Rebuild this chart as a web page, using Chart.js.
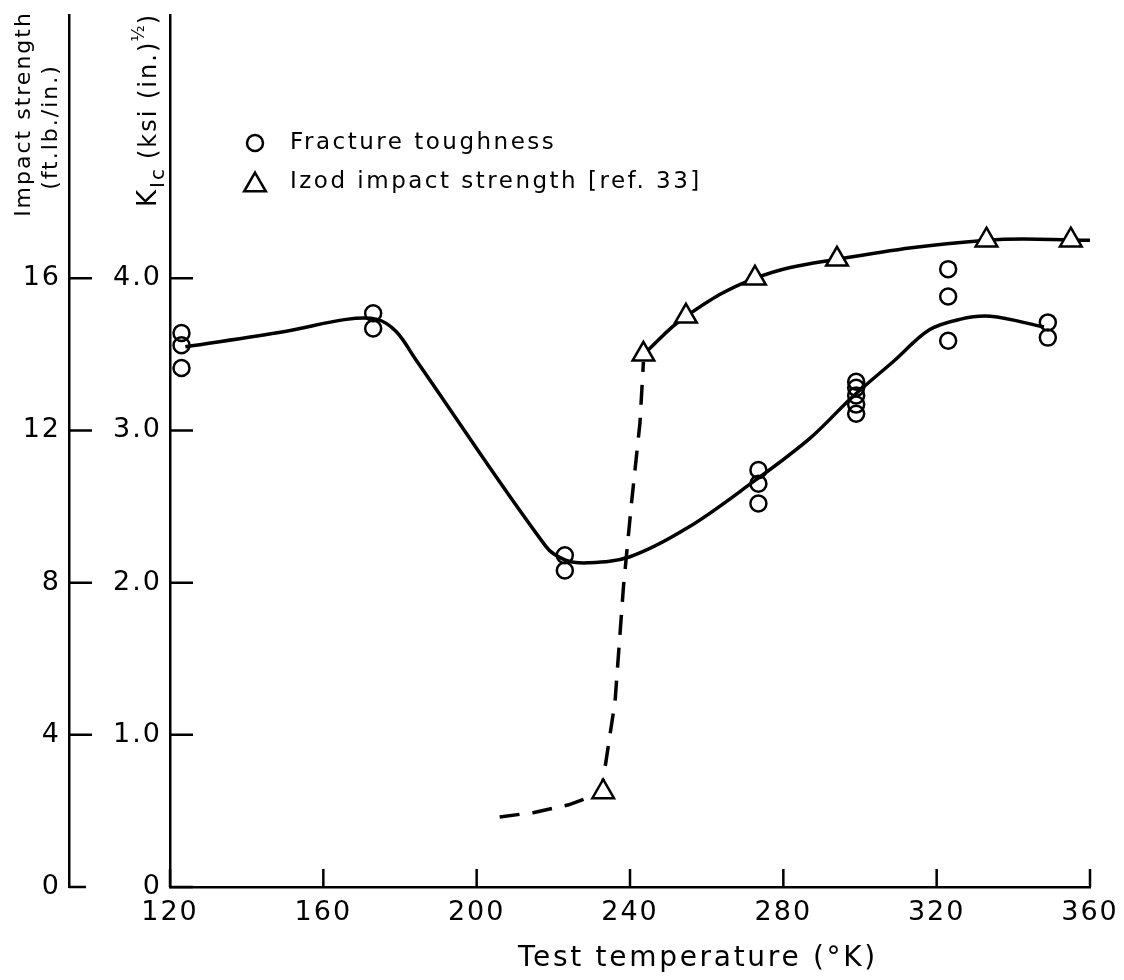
<!DOCTYPE html>
<html>
<head>
<meta charset="utf-8">
<script src="https://cdn.jsdelivr.net/npm/chart.js@4.4.0/dist/chart.umd.min.js"></script>
<style>
  html, body { margin: 0; padding: 0; background: #fff; }
</style>
</head>
<body>
<canvas id="myChart" width="1124" height="980"></canvas>
<script>
// test temperature (K) and K_Ic (ksi (in.)^1/2) of the fracture specimens
var toughTemp = [123, 123, 123, 173, 173, 223, 223, 273.5, 273.5, 273.5, 299, 299, 299, 299, 299, 323, 323, 323, 349, 349];
var toughKic = [3.64, 3.56, 3.41, 3.77, 3.67, 2.18, 2.08, 2.74, 2.65, 2.52, 3.32, 3.28, 3.23, 3.17, 3.11, 4.06, 3.88, 3.59, 3.71, 3.61];

// Izod impact strength (ft.lb./in.) [ref. 33]
var izodTemp = [233, 243.5, 254.6, 272.6, 294, 333, 355];
var izodImpact = [2.5, 14.0, 15.0, 16.0, 16.5, 17.0, 17.0];

// hand drawn curves
var toughFitTemp = [124, 150, 166, 174, 179, 184, 218, 223, 229, 240, 255, 272, 287, 298, 309, 318, 326, 334, 348];
var toughFitKic = [3.55, 3.65, 3.73, 3.73, 3.65, 3.47, 2.24, 2.15, 2.13, 2.17, 2.36, 2.66, 2.95, 3.22, 3.46, 3.66, 3.73, 3.75, 3.68];
var izodFitTemp = [243.5, 254.6, 272.6, 294, 333, 360];
var izodFitImpact = [14.0, 15.0, 16.0, 16.5, 17.0, 17.0];
var izodDashTemp = [206, 215, 224, 232.5, 236.1, 238.3, 240.4, 242.6, 243.5];
var izodDashImpact = [1.84, 1.96, 2.16, 2.48, 4.88, 7.9, 10.1, 12.2, 13.8];

var xTicks = [120, 160, 200, 240, 280, 320, 360];
var kicTicks = [0, 1, 2, 3, 4];
var impactTicks = [0, 4, 8, 12, 16];

var FONT = "'DejaVu Sans'";

function pts(xs, ys) {
  return xs.map(function (x, i) { return { x: x, y: ys[i] }; });
}

var inkPlugin = {
  id: 'ink',
  beforeDraw: function (chart) {
    var ctx = chart.ctx;
    ctx.save();
    ctx.fillStyle = '#fff';
    ctx.fillRect(0, 0, chart.width, chart.height);
    ctx.restore();
    ctx.letterSpacing = '2px';
  },
  afterDraw: function (chart) {
    var ctx = chart.ctx;
    var area = chart.chartArea;
    var sx = chart.scales.x, sy = chart.scales.y, si = chart.scales.yImp;
    ctx.save();
    ctx.strokeStyle = '#000';
    ctx.fillStyle = '#000';
    ctx.lineWidth = 2.5;

    // tick marks point into the plot
    ctx.beginPath();
    kicTicks.forEach(function (v) {
      var y = sy.getPixelForValue(v);
      ctx.moveTo(area.left, y);
      ctx.lineTo(area.left + 23, y);
    });
    impactTicks.forEach(function (v) {
      var y = si.getPixelForValue(v);
      ctx.moveTo(si.right, y);
      ctx.lineTo(si.right + (v === 0 ? 17 : 23), y);
    });
    xTicks.forEach(function (v) {
      var x = sx.getPixelForValue(v);
      ctx.moveTo(x, area.bottom);
      ctx.lineTo(x, area.bottom - 18);
    });
    ctx.stroke();

    // legend
    ctx.fillStyle = '#fff';
    Chart.helpers.drawPoint(ctx, { pointStyle: 'circle', radius: 8, rotation: 0, borderWidth: 2.5 }, 255, 143);
    Chart.helpers.drawPoint(ctx, { pointStyle: 'triangle', radius: 12.5, rotation: 0, borderWidth: 2.5 }, 255, 185);
    ctx.fillStyle = '#000';
    ctx.font = '23px ' + FONT;
    ctx.letterSpacing = '2.5px';
    ctx.textAlign = 'left';
    ctx.textBaseline = 'middle';
    ctx.fillText('Fracture toughness', 290, 143);
    ctx.fillText('Izod impact strength [ref. 33]', 290, 182);

    // x axis title, set right of centre as in the original
    ctx.letterSpacing = '2.7px';
    ctx.textAlign = 'center';
    ctx.font = '28px ' + FONT;
    ctx.fillText('Test temperature (\u00b0K)', 698, 959);

    // left axis title
    ctx.letterSpacing = '2px';
    ctx.font = '22px ' + FONT;
    ctx.save();
    ctx.translate(24, 114);
    ctx.rotate(-Math.PI / 2);
    ctx.fillText('Impact strength', 0, 0);
    ctx.restore();
    ctx.save();
    ctx.translate(51, 127);
    ctx.rotate(-Math.PI / 2);
    ctx.fillText('(ft.lb./in.)', 0, 0);
    ctx.restore();

    // K_Ic title with sub and superscript
    ctx.save();
    ctx.translate(148, 207);
    ctx.rotate(-Math.PI / 2);
    ctx.textAlign = 'left';
    ctx.textBaseline = 'alphabetic';
    var cx = 0;
    ctx.font = '26px ' + FONT;
    ctx.fillText('K', cx, 8);
    cx += ctx.measureText('K').width;
    ctx.font = '20px ' + FONT;
    ctx.fillText('Ic', cx, 16);
    cx += ctx.measureText('Ic').width + 8;
    ctx.font = '24px ' + FONT;
    ctx.fillText('(ksi (in.)', cx, 8);
    cx += ctx.measureText('(ksi (in.)').width - 1;
    ctx.font = '17px ' + FONT;
    ctx.letterSpacing = '0px';
    ctx.fillText('\u00bd', cx, -4);
    cx += ctx.measureText('\u00bd').width + 1;
    ctx.font = '24px ' + FONT;
    ctx.fillText(')', cx, 8);
    ctx.restore();

    ctx.restore();
  }
};

var ctx = document.getElementById('myChart');

new Chart(ctx, {
  type: 'scatter',
  data: {
    datasets: [
      {
        label: 'Fracture toughness',
        data: pts(toughTemp, toughKic),
        yAxisID: 'y',
        pointStyle: 'circle',
        pointRadius: 8,
        pointBorderWidth: 2.5,
        borderColor: '#000',
        backgroundColor: 'rgba(0,0,0,0)',
        showLine: false,
      },
      {
        label: 'Izod impact strength [ref. 33]',
        data: pts(izodTemp, izodImpact),
        yAxisID: 'yImp',
        pointStyle: 'triangle',
        pointRadius: 12.5,
        pointBorderWidth: 2.5,
        borderColor: '#000',
        backgroundColor: '#fff',
        showLine: false,
      },
      {
        label: 'toughness curve',
        data: pts(toughFitTemp, toughFitKic),
        yAxisID: 'y',
        showLine: true,
        pointRadius: 0,
        borderColor: '#000',
        borderWidth: 3.5,
        tension: 0.35,
      },
      {
        label: 'impact curve',
        data: pts(izodFitTemp, izodFitImpact),
        yAxisID: 'yImp',
        showLine: true,
        pointRadius: 0,
        borderColor: '#000',
        borderWidth: 3.5,
        tension: 0.4,
      },
      {
        label: 'impact transition',
        data: pts(izodDashTemp, izodDashImpact),
        yAxisID: 'yImp',
        showLine: true,
        pointRadius: 0,
        borderColor: '#000',
        borderWidth: 3.5,
        borderDash: [20, 13],
        tension: 0,
      },
    ],
  },
  options: {
    responsive: false,
    animation: false,
    devicePixelRatio: 1,
    layout: { padding: { top: 13, right: 34, left: 0, bottom: 0 } },
    plugins: {
      legend: { display: false },
      tooltip: { enabled: false },
    },
    scales: {
      x: {
        type: 'linear',
        min: 120,
        max: 360,
        afterBuildTicks: function (s) { s.ticks = xTicks.map(function (v) { return { value: v }; }); },
        afterFit: function (s) { s.height = 93; s.paddingLeft = 0; s.paddingRight = 0; },
        grid: { drawOnChartArea: false, drawTicks: false },
        border: { display: true, color: '#000', width: 2.5 },
        ticks: { color: '#000', font: { family: FONT, size: 27 }, padding: 10, maxRotation: 0, autoSkip: false },
      },
      y: {
        type: 'linear',
        position: 'left',
        weight: 0,
        min: 0,
        max: 5.73,
        afterBuildTicks: function (s) { s.ticks = kicTicks.map(function (v) { return { value: v }; }); },
        afterFit: function (s) { s.width = 101; s.paddingTop = 0; s.paddingBottom = 0; },
        grid: { drawOnChartArea: false, drawTicks: false },
        border: { display: true, color: '#000', width: 2.5 },
        ticks: {
          color: '#000',
          font: { family: FONT, size: 27 },
          padding: 8,
          callback: function (v) { return v === 0 ? '0' : v.toFixed(1); },
        },
      },
      yImp: {
        type: 'linear',
        position: 'left',
        weight: 1,
        min: 0,
        max: 22.92,
        afterBuildTicks: function (s) { s.ticks = impactTicks.map(function (v) { return { value: v }; }); },
        afterFit: function (s) { s.width = 69; s.paddingTop = 0; s.paddingBottom = 0; },
        grid: { drawOnChartArea: false, drawTicks: false },
        border: { display: true, color: '#000', width: 2.5 },
        ticks: { color: '#000', font: { family: FONT, size: 27 }, padding: 8 },
      },
    },
  },
  plugins: [inkPlugin],
});
</script>
</body>
</html>
